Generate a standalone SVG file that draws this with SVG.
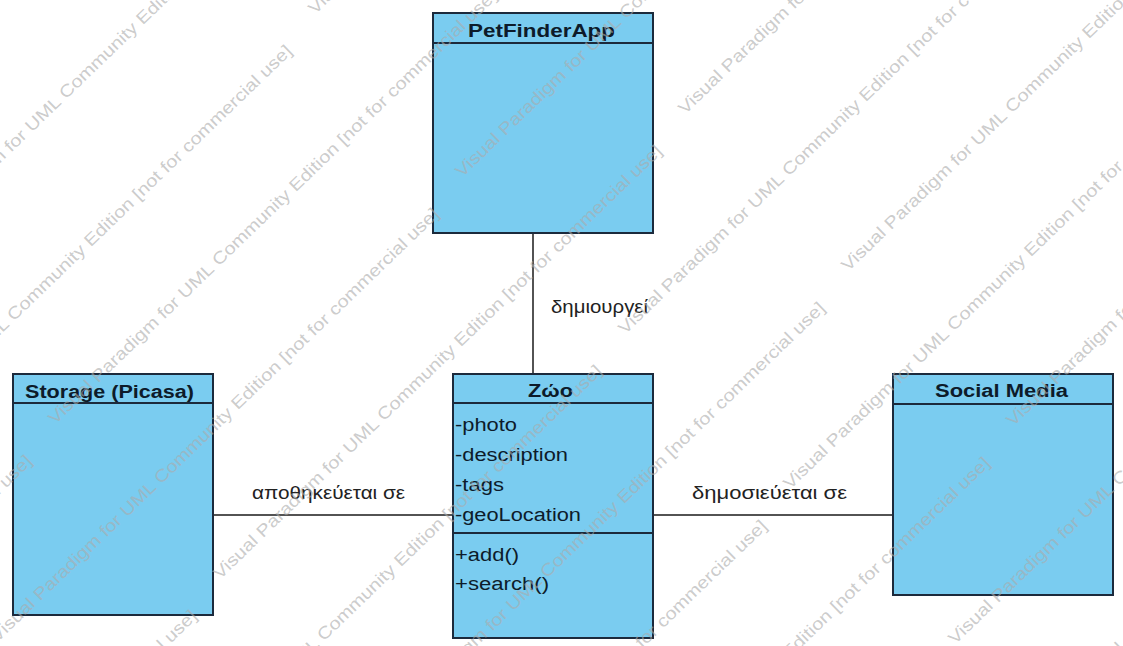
<svg xmlns="http://www.w3.org/2000/svg" width="1123" height="646" viewBox="0 0 1123 646">
<style>
.box{fill:#7accf0;stroke:#1c2a3c;stroke-width:2}
.div{stroke:#1c2a3c;stroke-width:2}
.title{font-family:"Liberation Sans",Arial,sans-serif;font-size:18px;font-weight:bold;fill:#0d1b2a}
.attr{font-family:"Liberation Sans",Arial,sans-serif;font-size:18px;fill:#0d1b2a}
.conn{stroke:#1a1a1a;stroke-width:1.5;fill:none}
.lbl{font-family:"Liberation Sans",Arial,sans-serif;font-size:18px;fill:#222}
.wm{font-family:"Liberation Sans",Arial,sans-serif;font-size:17px;fill:#ababab;fill-opacity:.62}
</style>
<rect width="1123" height="646" fill="#ffffff"/>
<g id="connectors">
<line class="conn" x1="533" y1="233" x2="533" y2="374"/>
<line class="conn" x1="213" y1="515" x2="453" y2="515"/>
<line class="conn" x1="653" y1="515" x2="893" y2="515"/>
<text class="lbl" x="551" y="313" textLength="97" lengthAdjust="spacingAndGlyphs">δημιουργεί</text>
<text class="lbl" x="252" y="499" textLength="153" lengthAdjust="spacingAndGlyphs">αποθηκεύεται σε</text>
<text class="lbl" x="692" y="499" textLength="155" lengthAdjust="spacingAndGlyphs">δημοσιεύεται σε</text>
</g>
<g id="node-petfinderapp">
<rect class="box" x="433" y="13" width="220" height="220"/>
<line class="div" x1="433" y1="43" x2="653" y2="43"/>
<text class="title" x="468" y="37" textLength="147" lengthAdjust="spacingAndGlyphs">PetFinderApp</text>
</g>
<g id="node-storage">
<rect class="box" x="13" y="374" width="200" height="241"/>
<line class="div" x1="13" y1="403" x2="213" y2="403"/>
<text class="title" x="25" y="398" textLength="169" lengthAdjust="spacingAndGlyphs">Storage (Picasa)</text>
</g>
<g id="node-zwo">
<rect class="box" x="453" y="374" width="200" height="264"/>
<line class="div" x1="453" y1="403" x2="653" y2="403"/>
<line class="div" x1="453" y1="533" x2="653" y2="533"/>
<text class="title" x="528" y="397" textLength="45" lengthAdjust="spacingAndGlyphs">Ζώο</text>
<text class="attr" x="455" y="431" textLength="62" lengthAdjust="spacingAndGlyphs">-photo</text>
<text class="attr" x="455" y="461" textLength="113" lengthAdjust="spacingAndGlyphs">-description</text>
<text class="attr" x="455" y="491" textLength="49" lengthAdjust="spacingAndGlyphs">-tags</text>
<text class="attr" x="455" y="521" textLength="126" lengthAdjust="spacingAndGlyphs">-geoLocation</text>
<text class="attr" x="455" y="561" textLength="64" lengthAdjust="spacingAndGlyphs">+add()</text>
<text class="attr" x="455" y="590" textLength="94" lengthAdjust="spacingAndGlyphs">+search()</text>
</g>
<g id="node-socialmedia">
<rect class="box" x="893" y="374" width="220" height="221"/>
<line class="div" x1="893" y1="404" x2="1113" y2="404"/>
<text class="title" x="935" y="397" textLength="133" lengthAdjust="spacingAndGlyphs">Social Media</text>
</g>
<g id="watermark">
<text class="wm" transform="translate(-98,258) rotate(-44)" textLength="616" lengthAdjust="spacingAndGlyphs">Visual Paradigm for UML Community Edition [not for commercial use]</text>
<text class="wm" transform="translate(-150,480) rotate(-44)" textLength="616" lengthAdjust="spacingAndGlyphs">Visual Paradigm for UML Community Edition [not for commercial use]</text>
<text class="wm" transform="translate(315,15) rotate(-44)" textLength="616" lengthAdjust="spacingAndGlyphs">Visual Paradigm for UML Community Edition [not for commercial use]</text>
<text class="wm" transform="translate(-410,890) rotate(-44)" textLength="616" lengthAdjust="spacingAndGlyphs">Visual Paradigm for UML Community Edition [not for commercial use]</text>
<text class="wm" transform="translate(55,425) rotate(-44)" textLength="616" lengthAdjust="spacingAndGlyphs">Visual Paradigm for UML Community Edition [not for commercial use]</text>
<text class="wm" transform="translate(-3,643) rotate(-44)" textLength="616" lengthAdjust="spacingAndGlyphs">Visual Paradigm for UML Community Edition [not for commercial use]</text>
<text class="wm" transform="translate(462,178) rotate(-44)" textLength="616" lengthAdjust="spacingAndGlyphs">Visual Paradigm for UML Community Edition [not for commercial use]</text>
<text class="wm" transform="translate(-245,1045) rotate(-44)" textLength="616" lengthAdjust="spacingAndGlyphs">Visual Paradigm for UML Community Edition [not for commercial use]</text>
<text class="wm" transform="translate(220,580) rotate(-44)" textLength="616" lengthAdjust="spacingAndGlyphs">Visual Paradigm for UML Community Edition [not for commercial use]</text>
<text class="wm" transform="translate(685,115) rotate(-44)" textLength="616" lengthAdjust="spacingAndGlyphs">Visual Paradigm for UML Community Edition [not for commercial use]</text>
<text class="wm" transform="translate(160,800) rotate(-44)" textLength="616" lengthAdjust="spacingAndGlyphs">Visual Paradigm for UML Community Edition [not for commercial use]</text>
<text class="wm" transform="translate(625,335) rotate(-44)" textLength="616" lengthAdjust="spacingAndGlyphs">Visual Paradigm for UML Community Edition [not for commercial use]</text>
<text class="wm" transform="translate(383,737) rotate(-44)" textLength="616" lengthAdjust="spacingAndGlyphs">Visual Paradigm for UML Community Edition [not for commercial use]</text>
<text class="wm" transform="translate(848,272) rotate(-44)" textLength="616" lengthAdjust="spacingAndGlyphs">Visual Paradigm for UML Community Edition [not for commercial use]</text>
<text class="wm" transform="translate(325,955) rotate(-44)" textLength="616" lengthAdjust="spacingAndGlyphs">Visual Paradigm for UML Community Edition [not for commercial use]</text>
<text class="wm" transform="translate(790,490) rotate(-44)" textLength="616" lengthAdjust="spacingAndGlyphs">Visual Paradigm for UML Community Edition [not for commercial use]</text>
<text class="wm" transform="translate(548,892) rotate(-44)" textLength="616" lengthAdjust="spacingAndGlyphs">Visual Paradigm for UML Community Edition [not for commercial use]</text>
<text class="wm" transform="translate(1013,427) rotate(-44)" textLength="616" lengthAdjust="spacingAndGlyphs">Visual Paradigm for UML Community Edition [not for commercial use]</text>
<text class="wm" transform="translate(955,645) rotate(-44)" textLength="616" lengthAdjust="spacingAndGlyphs">Visual Paradigm for UML Community Edition [not for commercial use]</text>
<text class="wm" transform="translate(713,1047) rotate(-44)" textLength="616" lengthAdjust="spacingAndGlyphs">Visual Paradigm for UML Community Edition [not for commercial use]</text>
</g>
</svg>
